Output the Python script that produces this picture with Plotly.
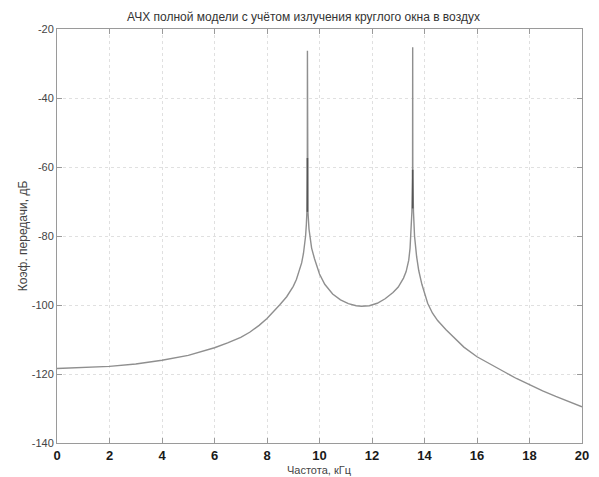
import plotly.graph_objects as go

# Digitised frequency response (kHz, dB)
freq_khz = [0, 1, 2, 3, 4, 5, 5.5, 6, 6.5, 7, 7.34, 7.7, 8, 8.25, 8.48, 8.75, 9.0, 9.12,
            9.24, 9.32, 9.39, 9.44, 9.47, 9.5, 9.52, 9.535, 9.54, 9.545, 9.56, 9.6, 9.7,
            9.81, 9.9, 10.0, 10.2, 10.5, 10.8, 11.1, 11.4, 11.6, 11.9, 12.2, 12.5, 12.8,
            13.0, 13.2, 13.3, 13.4, 13.45, 13.49, 13.52, 13.545, 13.55, 13.555, 13.58,
            13.62, 13.7, 13.78, 13.9, 14.0, 14.12, 14.3, 14.5, 14.82, 15.0, 15.5, 16.0,
            16.5, 17.0, 17.5, 18.0, 18.5, 19.0, 19.5, 20.0]
gain_db = [-118.4, -118.2, -117.8, -117.1, -116.0, -114.6, -113.6, -112.4, -111.0, -109.4,
           -107.9, -105.9, -103.9, -102.0, -100.0, -97.6, -94.6, -92.6,
           -90.0, -87.8, -85.0, -82.3, -80.0, -76.5, -73.0, -62.0, -26.3, -62.0, -73.0,
           -78.0, -83.5,
           -86.6, -89.0, -91.0, -94.0, -96.8, -98.5, -99.6, -100.2, -100.35, -100.2, -99.5,
           -98.2, -96.4,
           -94.8, -92.2, -90.3, -87.0, -83.5, -79.0, -73.0, -63.0, -25.3, -63.0, -73.0,
           -80.0, -86.0, -90.0, -94.0, -96.7, -99.5, -102.3, -104.5, -107.2, -108.6,
           -112.2, -115.0,
           -117.2, -119.2, -121.3, -123.2, -124.9, -126.5, -128.0, -129.5]

# Darker overlapping segments on the resonance spikes
spike1_x = [9.54, 9.54]
spike1_y = [-57.4, -73.0]
spike2_x = [13.55, 13.55]
spike2_y = [-60.8, -72.0]

x_ticks = [0, 2, 4, 6, 8, 10, 12, 14, 16, 18, 20]
y_ticks = [-140, -120, -100, -80, -60, -40, -20]

fig = go.Figure()
fig.add_trace(go.Scatter(x=freq_khz, y=gain_db, mode="lines",
                         line=dict(color="#8f8f8f", width=1.4), showlegend=False))
fig.add_trace(go.Scatter(x=spike1_x, y=spike1_y, mode="lines",
                         line=dict(color="#555555", width=1.6), showlegend=False))
fig.add_trace(go.Scatter(x=spike2_x, y=spike2_y, mode="lines",
                         line=dict(color="#555555", width=1.6), showlegend=False))

axis_common = dict(showline=True, linecolor="#9a9a9a", linewidth=1, mirror="ticks",
                   ticks="inside", ticklen=5, tickcolor="#9a9a9a",
                   showgrid=True, gridcolor="#e0e0e0", griddash="dot", gridwidth=1,
                   zeroline=False, automargin=False)

# The page body adds an 8 px offset, so the figure is sized to fit the window
fig.update_layout(
    width=591, height=469,
    margin=dict(l=49, r=17, t=21, b=34),
    paper_bgcolor="white", plot_bgcolor="white",
    font=dict(family="Liberation Sans, Arial, sans-serif", color="#444444"),
    title=dict(text="АЧХ полной модели с учётом излучения круглого окна в воздух",
               x=0.5, xanchor="center", y=0.981, yanchor="middle",
               font=dict(size=12, color="#333333")),
    xaxis=dict(range=[0, 20], tickvals=x_ticks,
               ticktext=["<b>%d</b>" % v for v in x_ticks],
               tickfont=dict(size=13, color="#1a1a1a", family="Liberation Sans, Arial"),
               ticklabelstandoff=0,
               **axis_common),
    yaxis=dict(range=[-140, -20], tickvals=y_ticks,
               ticktext=["%d" % v for v in y_ticks],
               tickfont=dict(size=11, color="#444444"),
               title=dict(text="Коэф. передачи, дБ", font=dict(size=12, color="#444444"), standoff=1),
               **axis_common),
    annotations=[dict(text="Частота, кГц", xref="paper", yref="paper", x=0.5, y=-0.066,
                      xanchor="center", yanchor="middle", showarrow=False,
                      font=dict(size=11, color="#444444"))],
)

fig.write_html("out.html")
